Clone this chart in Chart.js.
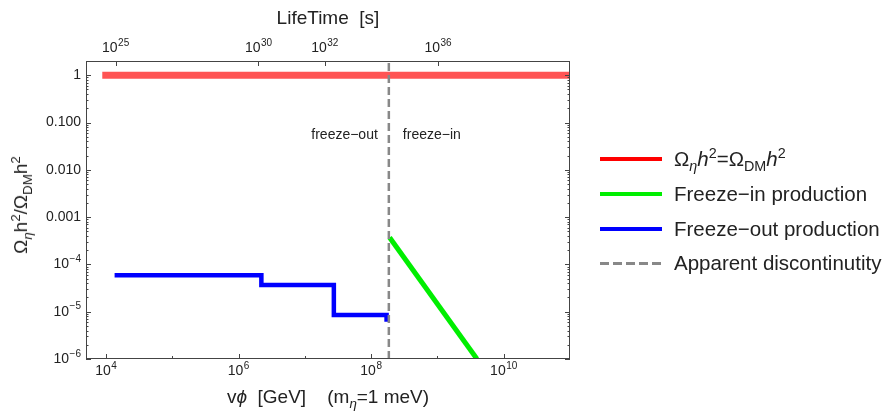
<!DOCTYPE html>
<html>
<head>
<meta charset="utf-8">
<script src="https://cdn.jsdelivr.net/npm/chart.js@4"></script>
<style>
  html, body { margin: 0; padding: 0; background: #fff; }
  #wrap { position: relative; width: 883px; height: 416px; font-family: "Liberation Sans", Arial, sans-serif; color: #222; }
  #chart { position: absolute; left: 0; top: 0; }
  .ttl { position: absolute; font-size: 19px; white-space: nowrap; transform: translate(-50%, -50%); }
  sub, sup { font-size: 70%; line-height: 0; }
  #legend { position: absolute; left: 600px; top: 142px; font-size: 20.5px; }
  .row { display: flex; align-items: center; height: 34.7px; white-space: nowrap; }
  .sw { width: 62px; height: 4px; margin-right: 12px; }
</style>
</head>
<body>
<div id="wrap">
  <canvas id="chart" width="883" height="416"></canvas>
  <div class="ttl" style="left:328px; top:18px;">LifeTime&nbsp;&nbsp;[s]</div>
  <div class="ttl" style="left:328px; top:397px;">v<i>ϕ</i>&nbsp;&nbsp;[GeV]&nbsp;&nbsp;&nbsp;&nbsp;(m<sub><i>η</i></sub>=1 meV)</div>
  <div class="ttl" style="left:21px; top:205px; transform:translate(-50%,-50%) rotate(-90deg);">Ω<sub><i>η</i></sub>h<sup>2</sup>/Ω<sub>DM</sub>h<sup>2</sup></div>
  <div id="legend"></div>
</div>
<script>
// values
const xMin = 5e3, xMax = 1e11;
const yMin = 1e-6, yMax = 2;

const relicX = [8.8e3, 1e11];
const relicY = [1, 1];

const freezeInX = [1.9e8, 3.95e9];
const freezeInY = [3.7e-4, 1e-6];

const freezeOutX = [1.35e4, 2.21e6, 2.74e7, 1.71e8];
const freezeOutY = [5.87e-5, 3.66e-5, 8.5e-6, 6.1e-6];

const splitX = [1.85e8, 1.85e8];
const splitY = [yMin, yMax];
const regionLabelY = 0.054;

// tick labels: "base^exponent"
const xTickVals = [1e4, 1e6, 1e8, 1e10];
const xTickLabels = ['10^4', '10^6', '10^8', '10^10'];
const xMinorVals = [1e5, 1e7, 1e9];
const yTickVals = [1, 0.1, 0.01, 0.001, 1e-4, 1e-5, 1e-6];
const yTickLabels = ['1', '0.100', '0.010', '0.001', '10^−4', '10^−5', '10^−6'];
const topTickVals = [1.4e4, 2.0e6, 2.0e7, 1.02e9];
const topTickLabels = ['10^25', '10^30', '10^32', '10^36'];

const legendItems = [
  { html: 'Ω<sub><i>η</i></sub><i>h</i><sup>2</sup>=Ω<sub>DM</sub><i>h</i><sup>2</sup>', color: '#ff0000' },
  { html: 'Freeze−in production', color: '#00ee00' },
  { html: 'Freeze−out production', color: '#0000ff' },
  { html: 'Apparent discontinutity', color: '#888888', dashed: true }
];

const FONT = '"Liberation Sans", Arial, sans-serif';
Chart.defaults.font.family = FONT;

function pts(xs, ys) { return xs.map((x, i) => ({ x: x, y: ys[i] })); }

// draw "10^n" with a real raised exponent; align: 'center' | 'right'
function drawLabel(ctx, txt, x, y, align) {
  const parts = txt.split('^');
  ctx.font = '14px ' + FONT;
  const wb = ctx.measureText(parts[0]).width;
  let we = 0;
  if (parts[1]) { ctx.font = '10px ' + FONT; we = ctx.measureText(parts[1]).width + 0.5; }
  const w = wb + we;
  const x0 = align === 'right' ? x - w : x - w / 2;
  ctx.textAlign = 'left';
  ctx.textBaseline = 'middle';
  ctx.font = '14px ' + FONT;
  ctx.fillText(parts[0], x0, y);
  if (parts[1]) {
    ctx.font = '10px ' + FONT;
    ctx.fillText(parts[1], x0 + wb + 0.5, y - 5);
  }
}

// inward frame ticks and labels, Mathematica style
const frameTicks = {
  id: 'frameTicks',
  afterDatasetsDraw(chart) {
    const { ctx, chartArea: a, scales } = chart;
    const xs = scales.x, ys = scales.y;
    ctx.save();
    ctx.strokeStyle = '#444';
    ctx.lineWidth = 1;
    ctx.strokeRect(a.left + 0.5, a.top + 0.5, a.right - a.left - 1, a.bottom - a.top - 1);
    ctx.beginPath();
    xTickVals.forEach(v => { const p = Math.round(xs.getPixelForValue(v)) + 0.5; ctx.moveTo(p, a.bottom); ctx.lineTo(p, a.bottom - 5); });
    xMinorVals.forEach(v => { const p = Math.round(xs.getPixelForValue(v)) + 0.5; ctx.moveTo(p, a.bottom); ctx.lineTo(p, a.bottom - 3); });
    topTickVals.forEach(v => { const p = Math.round(xs.getPixelForValue(v)) + 0.5; ctx.moveTo(p, a.top); ctx.lineTo(p, a.top + 5); });
    for (let d = -6; d <= 0; d++) {
      for (let m = 1; m <= 9; m++) {
        const v = m * Math.pow(10, d);
        if (v > yMax) continue;
        const p = Math.round(ys.getPixelForValue(v)) + 0.5;
        const len = m === 1 ? 5 : 2.5;
        ctx.moveTo(a.left, p); ctx.lineTo(a.left + len, p);
        ctx.moveTo(a.right, p); ctx.lineTo(a.right - len, p);
      }
    }
    ctx.stroke();

    ctx.fillStyle = '#222';
    xTickVals.forEach((v, i) => drawLabel(ctx, xTickLabels[i], xs.getPixelForValue(v), a.bottom + 12, 'center'));
    topTickVals.forEach((v, i) => drawLabel(ctx, topTickLabels[i], xs.getPixelForValue(v), a.top - 13, 'center'));
    yTickVals.forEach((v, i) => drawLabel(ctx, yTickLabels[i], a.left - 5, ys.getPixelForValue(v), 'right'));

    ctx.font = '14px ' + FONT;
    ctx.textBaseline = 'middle';
    const sx = xs.getPixelForValue(splitX[0]);
    const sy = ys.getPixelForValue(regionLabelY);
    ctx.textAlign = 'right';
    ctx.fillText('freeze−out', sx - 11, sy);
    ctx.textAlign = 'left';
    ctx.fillText('freeze−in', sx + 14, sy);
    ctx.restore();
  }
};

new Chart(document.getElementById('chart'), {
  type: 'line',
  data: {
    datasets: [
      { label: 'Apparent discontinutity', data: pts(splitX, splitY), borderColor: '#888888', borderWidth: 2.5, borderDash: [8, 4], order: 0 },
      { label: 'Freeze-out production', data: pts(freezeOutX, freezeOutY), borderColor: '#0000ff', borderWidth: 4.5, stepped: true, order: 1 },
      { label: 'Freeze-in production', data: pts(freezeInX, freezeInY), borderColor: '#00ee00', borderWidth: 5, order: 2 },
      { label: 'relic', data: pts(relicX, relicY), borderColor: 'rgba(255,0,0,0.67)', borderWidth: 7, order: 3 }
    ]
  },
  options: {
    responsive: false,
    animation: false,
    parsing: false,
    elements: {
      point: { radius: 0, hoverRadius: 0 },
      line: { borderCapStyle: 'butt', borderJoinStyle: 'miter', fill: false, tension: 0 }
    },
    datasets: { line: { clip: 0 } },
    layout: { padding: { left: 0, right: 313, top: 0, bottom: 0 } },
    plugins: { legend: { display: false }, tooltip: { enabled: false } },
    scales: {
      x: {
        type: 'logarithmic', position: 'bottom', min: xMin, max: xMax,
        afterFit: s => { s.height = 57; },
        grid: { display: false, drawTicks: false }, border: { display: false },
        ticks: { display: false }
      },
      y: {
        type: 'logarithmic', position: 'left', min: yMin, max: yMax,
        afterFit: s => { s.width = 86; },
        grid: { display: false, drawTicks: false }, border: { display: false },
        ticks: { display: false }
      },
      xTop: {
        type: 'logarithmic', position: 'top', axis: 'x', min: xMin, max: xMax,
        afterFit: s => { s.height = 61; },
        grid: { display: false, drawTicks: false }, border: { display: false },
        ticks: { display: false }
      }
    }
  },
  plugins: [frameTicks]
});

// html legend (needs sub/superscripts)
const leg = document.getElementById('legend');
legendItems.forEach(it => {
  const row = document.createElement('div');
  row.className = 'row';
  const sw = document.createElement('div');
  sw.className = 'sw';
  if (it.dashed) {
    sw.style.height = '3px';
    sw.style.background = 'repeating-linear-gradient(90deg,' + it.color + ' 0 9px, transparent 9px 13px)';
  } else {
    sw.style.background = it.color;
  }
  const tx = document.createElement('span');
  tx.innerHTML = it.html;
  row.appendChild(sw);
  row.appendChild(tx);
  leg.appendChild(row);
});
</script>
</body>
</html>
